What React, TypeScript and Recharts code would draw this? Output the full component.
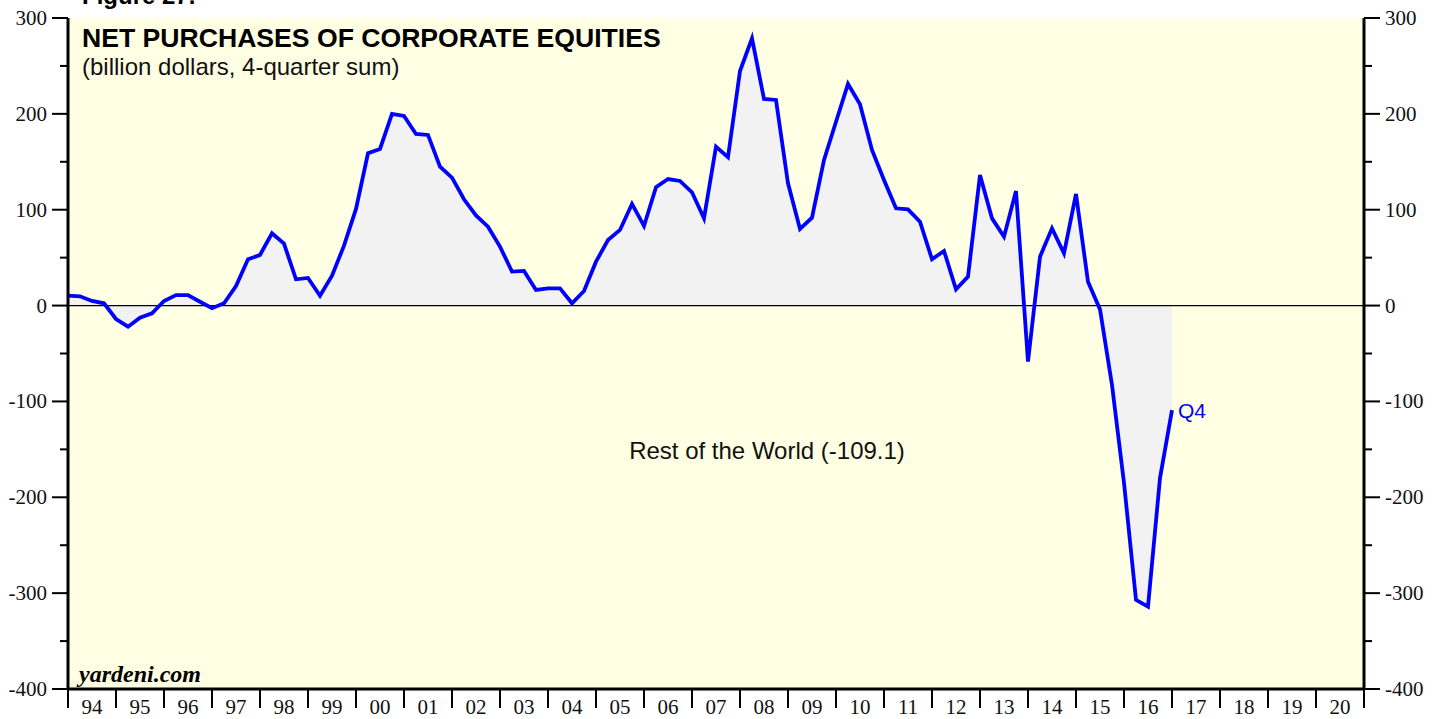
import React from 'react';
import {
  ComposedChart,
  Area,
  Line,
  XAxis,
  YAxis,
  CartesianGrid,
  ReferenceLine,
} from 'recharts';

const CHART_W = 1439;
const CHART_H = 719;

// 4-quarter sums, billion dollars, 1993 Q4 .. 2016 Q4 (plotted at quarter end)
const FIRST_QUARTER_END = 1994;
const restOfWorld = [
  10.3, 9.7, 4.8, 2.4, -14, -22, -12.6, -8, 4.8, 11,
  11, 4, -2.8, 2.4, 20.4, 48.3, 52.8, 75.4, 64.6, 27.4,
  28.8, 10.3, 31.2, 62.5, 100.8, 158.9, 163.4, 199.9, 197.8, 179,
  178, 144.9, 133.4, 110.9, 94, 82.3, 61.5, 35.4, 36.1, 16.3,
  18, 18, 2.4, 15.2, 45.8, 68.4, 78.9, 106, 83, 123.4,
  132, 130, 118.2, 91, 165.8, 154.7, 244.7, 278.8, 215.5, 214.5,
  127.6, 79.9, 91.7, 151.9, 191.8, 231.2, 210, 162.3, 131, 101.5,
  100.4, 87.5, 48.3, 57, 17, 30.2, 136.2, 91, 71.9, 119.5,
  -58.5, 51, 80.6, 54.5, 116.4, 24.9, -4, -82.8, -185, -307,
  -314, -180, -109.1,
];

const yearLabels = [
  '94', '95', '96', '97', '98', '99', '00', '01', '02', '03',
  '04', '05', '06', '07', '08', '09', '10', '11', '12', '13',
  '14', '15', '16', '17', '18', '19', '20',
];

const yTicks = [-400, -350, -300, -250, -200, -150, -100, -50, 0, 50, 100, 150, 200, 250, 300];

const FIRST_YEAR = 1994;
const LAST_YEAR = FIRST_YEAR + yearLabels.length;

// tick lines at year boundaries, labels at mid-year
const xTicks = yearLabels
  .flatMap((_, i) => [FIRST_YEAR + i, FIRST_YEAR + i + 0.5])
  .concat(LAST_YEAR);

const data = restOfWorld.map((v, i) => ({
  t: FIRST_QUARTER_END + i * 0.25,
  value: v,
}));

const serif = '"Liberation Serif", "Times New Roman", serif';
const sans = '"Liberation Sans", Arial, Helvetica, sans-serif';

const XTick = (props: any) => {
  const { x, y, payload } = props;
  const v = payload.value;
  if (Number.isInteger(v)) {
    return <line x1={x} y1={y} x2={x} y2={y + 19} stroke="#000" strokeWidth={2} />;
  }
  return (
    <text x={x} y={y + 25} textAnchor="middle" fontFamily={serif} fontSize={21} fill="#111">
      {yearLabels[Math.floor(v) - FIRST_YEAR]}
    </text>
  );
};

const makeYTick = (side: 'left' | 'right') => (props: any) => {
  const { x, y, payload } = props;
  const v = payload.value;
  const major = v % 100 === 0;
  const len = major ? 16 : 8;
  const dir = side === 'left' ? -1 : 1;
  return (
    <g>
      <line x1={x} y1={y} x2={x + dir * len} y2={y} stroke="#000" strokeWidth={2} />
      {major && (
        <text
          x={x + dir * (len + 5)}
          y={y + 7}
          textAnchor={side === 'left' ? 'end' : 'start'}
          fontFamily={serif}
          fontSize={21}
          fill="#111"
        >
          {v}
        </text>
      )}
    </g>
  );
};

const lastIndex = restOfWorld.length - 1;

const Q4Label = (props: any) => {
  const { x, y, index } = props;
  if (index !== lastIndex) return null;
  return (
    <text x={x + 6} y={y + 8} fontFamily={sans} fontSize={21} fill="#0000FF">
      Q4
    </text>
  );
};

export default function App() {
  return (
    <div style={{ position: 'absolute', left: 0, top: 0, width: CHART_W, height: CHART_H, overflow: 'hidden', background: '#fff' }}>
      <ComposedChart
        width={CHART_W}
        height={CHART_H}
        data={data}
        margin={{ top: 18, right: 0, bottom: 0, left: 0 }}
      >
        <CartesianGrid xAxisId="x" yAxisId="left" horizontal={false} vertical={false} fill="#FFFFE3" />
        <XAxis
          xAxisId="x"
          dataKey="t"
          type="number"
          domain={[FIRST_YEAR, LAST_YEAR]}
          ticks={xTicks}
          interval={0}
          height={30}
          tickSize={0}
          tickMargin={0}
          tickLine={false}
          tick={<XTick />}
          axisLine={{ stroke: '#000', strokeWidth: 3 }}
        />
        <XAxis
          xAxisId="top"
          orientation="top"
          dataKey="t"
          type="number"
          domain={[FIRST_YEAR, LAST_YEAR]}
          height={0}
          tick={false}
          tickLine={false}
          axisLine={{ stroke: '#000', strokeWidth: 3 }}
        />
        <YAxis
          yAxisId="left"
          orientation="left"
          type="number"
          domain={[-400, 300]}
          ticks={yTicks}
          interval={0}
          width={68}
          tickSize={0}
          tickMargin={0}
          tickLine={false}
          tick={makeYTick('left')}
          axisLine={{ stroke: '#000', strokeWidth: 3 }}
        />
        <YAxis
          yAxisId="right"
          orientation="right"
          type="number"
          domain={[-400, 300]}
          ticks={yTicks}
          interval={0}
          width={75}
          tickSize={0}
          tickMargin={0}
          tickLine={false}
          tick={makeYTick('right')}
          axisLine={{ stroke: '#000', strokeWidth: 3 }}
        />
        <Area
          xAxisId="x"
          yAxisId="left"
          dataKey="value"
          type="linear"
          baseValue={0}
          fill="#F2F2F2"
          fillOpacity={1}
          stroke="none"
          isAnimationActive={false}
        />
        <ReferenceLine xAxisId="x" yAxisId="left" y={0} stroke="#000" strokeWidth={1.2} />
        {/* invisible twin so the right-hand axis gets its ticks */}
        <Line
          xAxisId="top"
          yAxisId="right"
          dataKey="value"
          type="linear"
          stroke="transparent"
          dot={false}
          activeDot={false}
          isAnimationActive={false}
        />
        <Line
          xAxisId="x"
          yAxisId="left"
          dataKey="value"
          type="linear"
          stroke="#0000FF"
          strokeWidth={3.8}
          dot={false}
          activeDot={false}
          label={<Q4Label />}
          isAnimationActive={false}
        />
      </ComposedChart>
      <svg
        width={CHART_W}
        height={CHART_H}
        style={{ position: 'absolute', left: 0, top: 0, pointerEvents: 'none' }}
      >
        <text x={82} y={4} fontFamily={sans} fontWeight="bold" fontSize={24} fill="#000">
          Figure 27.
        </text>
        <text x={82} y={47} fontFamily={sans} fontWeight="bold" fontSize={26.6} fill="#000">
          NET PURCHASES OF CORPORATE EQUITIES
        </text>
        <text x={82} y={75} fontFamily={sans} fontSize={24} fill="#111">
          (billion dollars, 4-quarter sum)
        </text>
        <text x={767} y={459} textAnchor="middle" fontFamily={sans} fontSize={24} fill="#111">
          Rest of the World (-109.1)
        </text>
        <text x={79} y={682} fontFamily={serif} fontStyle="italic" fontWeight="bold" fontSize={24} fill="#000">
          yardeni.com
        </text>
      </svg>
    </div>
  );
}
